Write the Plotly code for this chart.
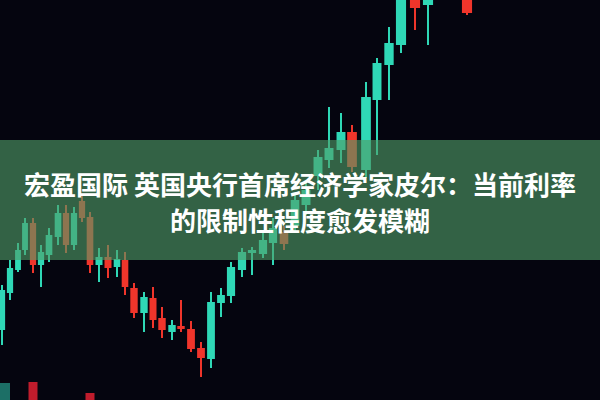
import numpy as np
import plotly.graph_objects as go

# ---- data (price units) ----
t = [2, 10, 18, 25, 33, 41, 49, 58, 66, 74, 82, 90, 99, 108, 117, 125, 134, 144, 153, 162,
     172, 181, 191, 201, 211, 221, 231, 242, 252, 263, 273, 284, 295, 306, 318, 329, 341, 352,
     366, 377, 389, 401, 415, 428, 467]
open_ = [70, 107, 130, 150, 177, 135, 145, 163, 187, 155, 199, 183, 135, 143, 133, 140, 112, 87, 102, 82,
         68, 74, 71, 52, 41, 97, 104, 130, 147, 146, 157, 168, 174, 195, 224, 240, 250, 268,
         230, 300, 335, 355, 405, 395, 405]
close_ = [110, 132, 150, 177, 135, 148, 165, 187, 155, 187, 182, 135, 143, 132, 141, 113, 87, 103, 80, 70,
          75, 71, 51, 42, 98, 105, 133, 148, 150, 160, 172, 156, 200, 210, 243, 252, 268, 233,
          303, 337, 357, 405, 392, 405, 387]
high_ = [115, 140, 157, 182, 182, 155, 172, 195, 195, 193, 205, 188, 152, 155, 150, 148, 117, 108, 113, 93,
         80, 100, 79, 58, 108, 112, 138, 152, 153, 170, 182, 174, 205, 218, 250, 293, 287, 275,
         318, 342, 373, 410, 410, 410, 410]
low_ = [55, 100, 128, 145, 127, 113, 138, 155, 147, 150, 178, 127, 118, 122, 123, 105, 82, 68, 72, 62,
        60, 68, 48, 23, 32, 83, 97, 123, 125, 142, 135, 150, 168, 185, 210, 232, 237, 228,
        222, 245, 300, 347, 370, 355, 385]

vol_t = [4, 33, 90]
vol_v = [17, 18, 7]
vol_up = [True, False, False]

title_line1 = "宏盈国际 英国央行首席经济学家皮尔：当前利率"
title_line2 = "的限制性程度愈发模糊"

# ---- styling ----
UP = "#2fd8b6"
DOWN = "#f0352b"
BG = "#05050f"

o = np.array(open_, float)
c = np.array(close_, float)
h = np.array(high_, float)
l = np.array(low_, float)
x = np.array(t, float)
up = c >= o
colors = [UP if u else DOWN for u in up]
spacing = np.gradient(x)
spacing = np.minimum(spacing, 13)
widths = spacing * 0.78

fig = go.Figure()

# volume bars
fig.add_trace(go.Bar(
    x=vol_t, y=vol_v, base=[0] * len(vol_v), width=[12, 9, 9],
    marker=dict(color=["#1c6f66" if u else "#c01c2c" for u in vol_up], line=dict(width=0)),
    hoverinfo="skip", showlegend=False))

# wicks
for is_up, col in [(True, UP), (False, DOWN)]:
    wx, wy = [], []
    for xi, hi, lo, u in zip(x, h, l, up):
        if u == is_up:
            wx += [xi, xi, None]
            wy += [lo, hi, None]
    fig.add_trace(go.Scatter(x=wx, y=wy, mode="lines", line=dict(color=col, width=2),
                             hoverinfo="skip", showlegend=False))

# bodies
fig.add_trace(go.Bar(
    x=x, y=np.abs(c - o), base=np.minimum(o, c), width=widths,
    marker=dict(color=colors, line=dict(width=0)),
    hoverinfo="skip", showlegend=False))

fig.update_layout(
    width=600, height=400,
    margin=dict(l=0, r=0, t=0, b=0),
    paper_bgcolor=BG, plot_bgcolor=BG,
    barmode="overlay",
    xaxis=dict(range=[0, 600], visible=False, fixedrange=True),
    yaxis=dict(range=[0, 400], visible=False, fixedrange=True),
    showlegend=False,
)

# banner
fig.add_shape(type="rect", xref="paper", yref="paper", x0=0, x1=1,
              y0=(400 - 260) / 400, y1=(400 - 140) / 400,
              fillcolor="rgba(80,157,103,0.62)", line=dict(width=0), layer="above")

font = dict(family="Noto Sans CJK SC", size=26, color="white")
fig.add_annotation(text="<b>" + title_line1 + "</b>", xref="paper", yref="paper",
                   x=0.5, y=(400 - 183) / 400, xanchor="center", yanchor="middle",
                   showarrow=False, font=font)
fig.add_annotation(text="<b>" + title_line2 + "</b>", xref="paper", yref="paper",
                   x=0.5, y=(400 - 219) / 400, xanchor="center", yanchor="middle",
                   showarrow=False, font=font)

fig.write_html("out.html", config={"displayModeBar": False},
               post_script="document.body.style.margin='0';document.body.style.background='#05050f';")
